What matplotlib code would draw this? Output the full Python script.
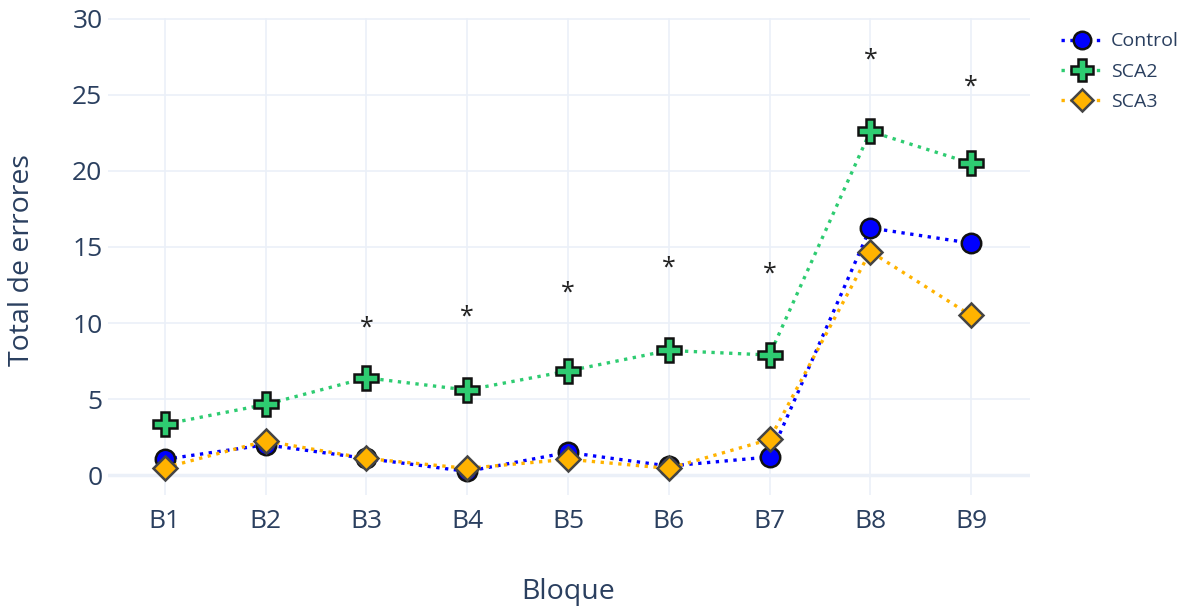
import matplotlib.pyplot as plt

blocks = ["B1", "B2", "B3", "B4", "B5", "B6", "B7", "B8", "B9"]
control = [1.05, 2.0, 1.1, 0.25, 1.5, 0.6, 1.2, 16.25, 15.25]
sca2 = [3.35, 4.65, 6.4, 5.6, 6.85, 8.2, 7.9, 22.6, 20.5]
sca3 = [0.5, 2.25, 1.1, 0.45, 1.05, 0.45, 2.35, 14.7, 10.5]
star_y = [9.7, 10.4, 12.0, 13.6, 13.2, 27.3, 25.5]
star_blocks = ["B3", "B4", "B5", "B6", "B7", "B8", "B9"]

plt.rcParams["font.family"] = ["Open Sans", "DejaVu Sans"]
text_color = "#2a3f5f"
grid_color = "#ebf0f8"

fig = plt.figure(figsize=(11.85, 6.11), dpi=100)
ax = fig.add_axes([108 / 1185, 1 - 495 / 611, 922 / 1185, 477 / 611])

x = list(range(len(blocks)))
ax.plot(x, control, linestyle=":", linewidth=2.4, color="#0000ff",
        marker="o", markersize=14, markerfacecolor="#0000ff",
        markeredgecolor="#111111", markeredgewidth=1.8, label="Control")
ax.plot(x, sca2, linestyle=":", linewidth=2.4, color="#2ecc71",
        marker="P", markersize=17, markerfacecolor="#2ecc71",
        markeredgecolor="#111111", markeredgewidth=1.8, label="SCA2")
ax.plot(x, sca3, linestyle=":", linewidth=2.4, color="#ffb300",
        marker="D", markersize=12, markerfacecolor="#ffb300",
        markeredgecolor="#444444", markeredgewidth=1.8, label="SCA3")

for b, y in zip(star_blocks, star_y):
    ax.text(blocks.index(b), y, "*", ha="center", va="center",
            fontsize=18, color="#222222")

ax.set_xlim(-0.565, 8.585)
ax.set_ylim(-1.3, 30.05)
ax.set_xticks(x)
ax.set_xticklabels(blocks)
ax.set_yticks([0, 5, 10, 15, 20, 25, 30])
ax.tick_params(length=0, labelsize=19, labelcolor=text_color, pad=4)
ax.tick_params(axis="x", pad=10)
ax.grid(True, color=grid_color, linewidth=1.2)
ax.axhline(0, color=grid_color, linewidth=2.5, zorder=0.5)
ax.set_axisbelow(True)
for spine in ax.spines.values():
    spine.set_visible(False)

fig.text(568 / 1185, 1 - 592 / 611, "Bloque", ha="center", va="center",
         fontsize=20.5, color=text_color)
fig.text(22 / 1185, 1 - 260 / 611, "Total de errores", ha="center",
         va="center", rotation=90, fontsize=20.5, color=text_color)

leg = ax.legend(loc="upper left", bbox_to_anchor=(1043 / 1185, 1 - 15 / 611),
                bbox_transform=fig.transFigure, frameon=False, fontsize=14,
                handlelength=2.2, labelspacing=0.62, markerscale=0.9,
                handletextpad=0.4)
for t in leg.get_texts():
    t.set_color(text_color)

fig.savefig("out.png", dpi=100, facecolor="white")
